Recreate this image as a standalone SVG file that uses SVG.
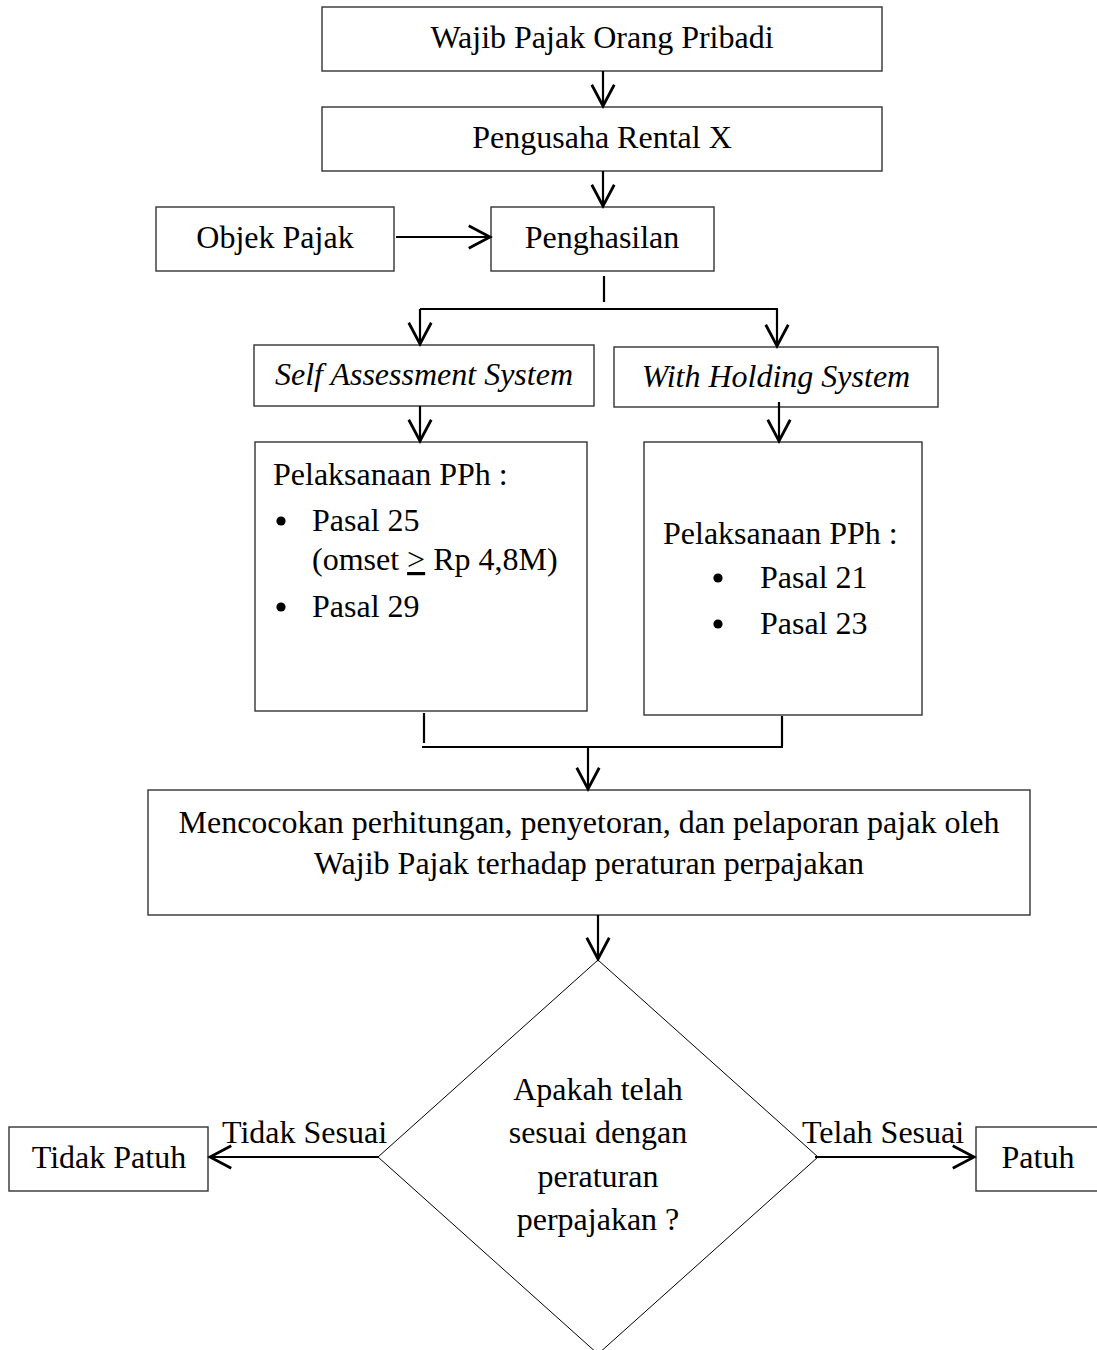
<svg xmlns="http://www.w3.org/2000/svg" width="1097" height="1350" viewBox="0 0 1097 1350">
<defs>
<style>
.box{fill:#fff;stroke:#333;stroke-width:1.4}
.dia{fill:#fff;stroke:#000;stroke-width:1}
.t{font-family:"Liberation Serif","Times New Roman",serif;font-size:32px;fill:#000}
.c{text-anchor:middle}
.i{font-style:italic}
.ln{fill:none;stroke:#000;stroke-width:2.2}
.ar{fill:none;stroke:#000;stroke-width:2.2;marker-end:url(#arr)}
</style>
<marker id="arr" markerUnits="userSpaceOnUse" markerWidth="30" markerHeight="30" viewBox="-20 -12 24 24" refX="0" refY="0" orient="auto" overflow="visible">
<path d="M-17,-9 L0,0 L-17,9" fill="none" stroke="#000" stroke-width="2.2" stroke-linejoin="miter"/>
</marker>
</defs>
<rect width="1097" height="1350" fill="#fff"/>

<g id="n-wp">
<rect class="box" x="322" y="7" width="560" height="64"/>
<text class="t c" x="602" y="48">Wajib Pajak Orang Pribadi</text>
</g>
<g id="n-rental">
<rect class="box" x="322" y="107" width="560" height="64"/>
<text class="t c" x="602" y="148">Pengusaha Rental X</text>
</g>
<g id="n-objek">
<rect class="box" x="156" y="207" width="238" height="64"/>
<text class="t c" x="275" y="248">Objek Pajak</text>
</g>
<g id="n-penghasilan">
<rect class="box" x="491" y="207" width="223" height="64"/>
<text class="t c" x="602" y="248">Penghasilan</text>
</g>
<g id="n-sas">
<rect class="box" x="254" y="345" width="340" height="61"/>
<text class="t c i" x="424" y="385">Self Assessment System</text>
</g>
<g id="n-whs">
<rect class="box" x="614" y="347" width="324" height="60"/>
<text class="t c i" x="776" y="387">With Holding System</text>
</g>
<g id="n-pph-left">
<rect class="box" x="255" y="442" width="332" height="269"/>
<text class="t" x="273" y="485">Pelaksanaan PPh :</text>
<circle cx="281" cy="521" r="4.6"/>
<text class="t" x="312" y="531">Pasal 25</text>
<text class="t" x="312" y="570">(omset <tspan text-decoration="underline" style="text-decoration:underline">&gt;</tspan> Rp 4,8M)</text>
<circle cx="281" cy="607" r="4.6"/>
<text class="t" x="312" y="617">Pasal 29</text>
</g>
<g id="n-pph-right">
<rect class="box" x="644" y="442" width="278" height="273"/>
<text class="t" x="663" y="544">Pelaksanaan PPh :</text>
<circle cx="718" cy="578" r="4.6"/>
<text class="t" x="760" y="588">Pasal 21</text>
<circle cx="718" cy="624" r="4.6"/>
<text class="t" x="760" y="634">Pasal 23</text>
</g>
<g id="n-cocok">
<rect class="box" x="148" y="790" width="882" height="125"/>
<text class="t c" x="589" y="833">Mencocokan perhitungan, penyetoran, dan pelaporan pajak oleh</text>
<text class="t c" x="589" y="874">Wajib Pajak terhadap peraturan perpajakan</text>
</g>
<g id="n-decision">
<polygon class="dia" points="598,960 818,1157 598,1354 378,1157"/>
<text class="t c" x="598" y="1100">Apakah telah</text>
<text class="t c" x="598" y="1143">sesuai dengan</text>
<text class="t c" x="598" y="1187">peraturan</text>
<text class="t c" x="598" y="1230">perpajakan ?</text>
</g>
<g id="n-tidak-patuh">
<rect class="box" x="9" y="1127" width="199" height="64"/>
<text class="t c" x="109" y="1168">Tidak Patuh</text>
</g>
<g id="n-patuh">
<rect class="box" x="976" y="1127" width="140" height="64"/>
<text class="t c" x="1038" y="1168">Patuh</text>
</g>

<g id="connectors">
<line class="ar" x1="603" y1="71" x2="603" y2="106"/>
<line class="ar" x1="603" y1="171" x2="603" y2="206"/>
<line class="ar" x1="396" y1="237" x2="490" y2="237"/>
<line class="ln" x1="604" y1="276" x2="604" y2="302"/>
<line class="ln" x1="420" y1="309" x2="778" y2="309"/>
<line class="ar" x1="420" y1="309" x2="420" y2="344"/>
<line class="ar" x1="777" y1="309" x2="777" y2="346"/>
<line class="ar" x1="420" y1="406" x2="420" y2="441"/>
<line class="ar" x1="779" y1="402" x2="779" y2="441"/>
<line class="ln" x1="424" y1="713" x2="424" y2="743"/>
<line class="ln" x1="782" y1="716" x2="782" y2="746"/>
<line class="ln" x1="422" y1="747" x2="783" y2="747"/>
<line class="ar" x1="588" y1="746" x2="588" y2="789"/>
<line class="ar" x1="598" y1="915" x2="598" y2="959"/>
<line class="ar" x1="379" y1="1157" x2="210" y2="1157"/>
<line class="ar" x1="815" y1="1157" x2="974" y2="1157"/>
<text class="t" x="222" y="1143">Tidak Sesuai</text>
<text class="t" x="802" y="1143">Telah Sesuai</text>
</g>
</svg>
